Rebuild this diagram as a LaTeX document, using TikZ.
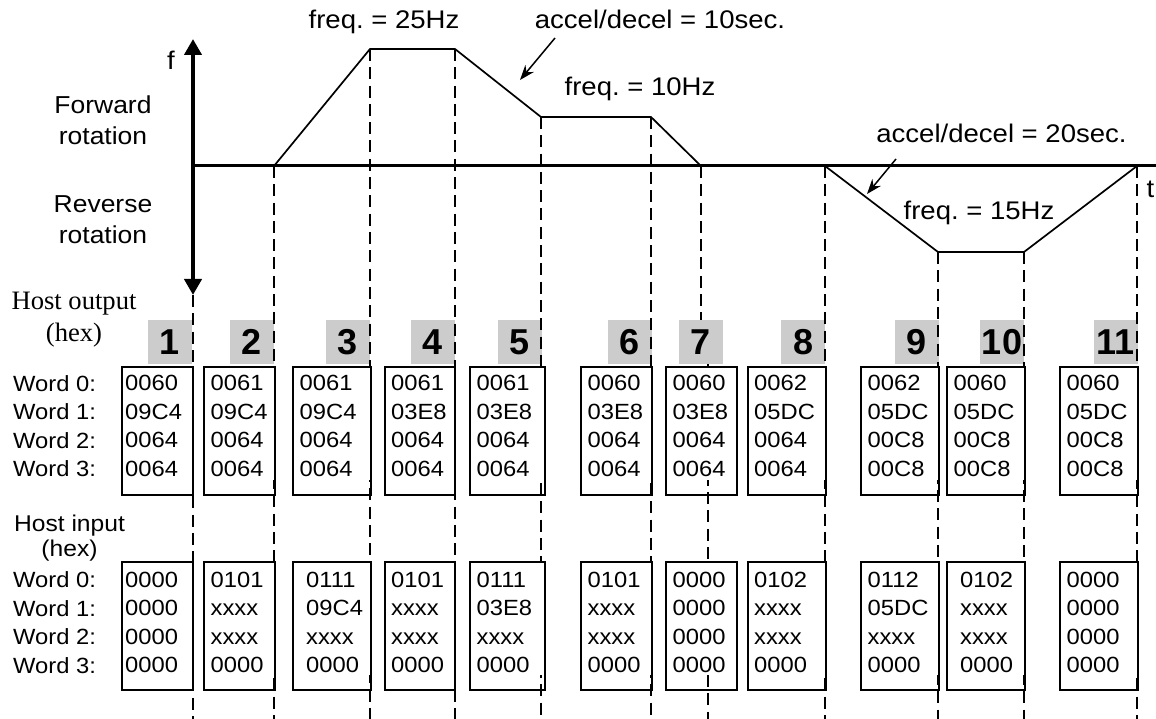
\documentclass[tikz,border=0pt]{standalone}
\usepackage{fontspec}
\setmainfont{Liberation Serif}
\setsansfont[FakeStretch=1.08]{Liberation Sans}
\newfontfamily\stepfont{Liberation Sans}
\usetikzlibrary{arrows.meta, positioning}
\definecolor{stepgray}{HTML}{CCCCCC}

\begin{document}
\frenchspacing
\begin{tikzpicture}[
    x=1pt, y=-1pt,
    axisline/.style={line width=4pt, {Triangle[width=17pt,length=16pt]}-{Triangle[width=17pt,length=16pt]}},
    zeroline/.style={line width=3pt},
    ramp/.style={line width=1.7pt},
    guide/.style={line width=2pt, dash pattern=on 12pt off 6.3pt},
    callout/.style={line width=1.5pt, -{Stealth[length=15pt,width=11pt]}},
    note/.style={font=\sffamily\fontsize{25.5}{30}\selectfont, inner sep=0pt, anchor=base},
    side/.style={font=\sffamily\fontsize{24.5}{31}\selectfont, align=center, inner sep=0pt, anchor=north},
    stepnum/.style={fill=stepgray, minimum width=44pt, minimum height=44pt, inner sep=0pt, font=\stepfont\bfseries\fontsize{36}{40}\selectfont},
    wordbox/.style={draw, line width=2pt, anchor=north west, minimum height=128pt, inner sep=0pt,
        path picture={\fill[white] ([shift={(1,1)}]path picture bounding box.north west) rectangle ([shift={(-1,-15)}]path picture bounding box.south east);}},
    wordtext/.style={font=\sffamily\fontsize{22}{28.5}\selectfont, align=left, anchor=north west, inner sep=0pt},
    hostlbl/.style={align=center, inner sep=0pt, anchor=north}
]
\useasboundingbox (0,0) rectangle (1156,719);

% axes
\coordinate (floor) at (0,719);
\coordinate (orig) at (193,166);
\coordinate (fend) at (1156,166);
\coordinate (ftop) at (193,39);
\coordinate (fbot) at (193,295);

% corners of the speed profile
\coordinate (k2) at (274,166);
\coordinate (k3) at (370,49);
\coordinate (k4) at (455,49);
\coordinate (k5) at (541,117);
\coordinate (k6) at (651,117);
\coordinate (k7) at (701,166);
\coordinate (k7b) at (708,364);
\coordinate (k8) at (825,166);
\coordinate (k9) at (938,252);
\coordinate (k10) at (1024,252);
\coordinate (k11) at (1137,166);

% step numbers
\node[stepnum] (n1) at (170,342) {1};
\node[stepnum] (n2) at (252,342) {2};
\node[stepnum] (n3) at (348,342) {3};
\node[stepnum] (n4) at (433,342) {4};
\node[stepnum] (n5) at (519.5,342) {5};
\node[stepnum] (n6) at (629.5,342) {6};
\node[stepnum] (n7) at (700.5,342) {7};
\node[stepnum] (n8) at (803,342) {8};
\node[stepnum] (n9) at (916.5,342) {9};
\node[stepnum] (n10) at (1002,342) {10};
\node[stepnum] (n11) at (1115.5,342) {11};

% dashed time marks
\draw[guide] (fbot) -- (fbot |- floor) (k2) -- (k2 |- floor) (k3) -- (k3 |- floor)
    (k4) -- (k4 |- floor) (k5) -- (k5 |- floor) (k6) -- (k6 |- floor)
    (k7) -- (k7 |- n7.north) (k7b) -- (k7b |- floor) (k8) -- (k8 |- floor)
    (k9) -- (k9 |- floor) (k10) -- (k10 |- floor) (k11) -- (k11 |- floor);

% host output words
\node[wordtext] (olbl) at (13,375) {Word 0:\\Word 1:\\Word 2:\\Word 3:};
\node[hostlbl, font=\rmfamily\fontsize{26.6}{32}\selectfont] (hout) at (74,292) {Host output\\(hex)};
\node[wordbox, minimum width=71pt] (o1) at (121,366) {};
\node[wordbox, minimum width=71pt] (o2) at (203,366) {};
\node[wordbox, minimum width=78pt] (o3) at (292,366) {};
\node[wordbox, minimum width=70.5pt] (o4) at (383.5,366) {};
\node[wordbox, minimum width=75pt] (o5) at (469,366) {};
\node[wordbox, minimum width=71pt] (o6) at (580,366) {};
\node[wordbox, minimum width=71pt] (o7) at (665,366) {};
\node[wordbox, minimum width=78.5pt] (o8) at (746.5,366) {};
\node[wordbox, minimum width=78pt] (o9) at (860,366) {};
\node[wordbox, minimum width=78pt] (o10) at (946,366) {};
\node[wordbox, minimum width=78pt] (o11) at (1059,366) {};
\node[wordtext] (o1t) at ([shift={(4,9)}]o1.north west) {0060\\09C4\\0064\\0064};
\node[wordtext] (o2t) at ([shift={(7.5,9)}]o2.north west) {0061\\09C4\\0064\\0064};
\node[wordtext] (o3t) at ([shift={(7.5,9)}]o3.north west) {0061\\09C4\\0064\\0064};
\node[wordtext] (o4t) at ([shift={(7.5,9)}]o4.north west) {0061\\03E8\\0064\\0064};
\node[wordtext] (o5t) at ([shift={(7.5,9)}]o5.north west) {0061\\03E8\\0064\\0064};
\node[wordtext] (o6t) at ([shift={(7.5,9)}]o6.north west) {0060\\03E8\\0064\\0064};
\node[wordtext] (o7t) at ([shift={(7.5,9)}]o7.north west) {0060\\03E8\\0064\\0064};
\node[wordtext] (o8t) at ([shift={(7.5,9)}]o8.north west) {0062\\05DC\\0064\\0064};
\node[wordtext] (o9t) at ([shift={(7.5,9)}]o9.north west) {0062\\05DC\\00C8\\00C8};
\node[wordtext] (o10t) at ([shift={(7.5,9)}]o10.north west) {0060\\05DC\\00C8\\00C8};
\node[wordtext] (o11t) at ([shift={(7.5,9)}]o11.north west) {0060\\05DC\\00C8\\00C8};

% host input words
\node[wordtext] (ilbl) at (13,571.5) {Word 0:\\Word 1:\\Word 2:\\Word 3:};
\node[hostlbl, font=\sffamily\fontsize{22.8}{25}\selectfont] (hin) at (69.5,515) {Host input\\(hex)};
\node[wordbox, minimum width=71pt] (i1) at (121,561) {};
\node[wordbox, minimum width=71pt] (i2) at (203,561) {};
\node[wordbox, minimum width=78pt] (i3) at (292,561) {};
\node[wordbox, minimum width=70.5pt] (i4) at (383.5,561) {};
\node[wordbox, minimum width=75pt] (i5) at (469,561) {};
\node[wordbox, minimum width=71pt] (i6) at (580,561) {};
\node[wordbox, minimum width=71pt] (i7) at (665,561) {};
\node[wordbox, minimum width=78.5pt] (i8) at (746.5,561) {};
\node[wordbox, minimum width=78pt] (i9) at (860,561) {};
\node[wordbox, minimum width=78pt] (i10) at (946,561) {};
\node[wordbox, minimum width=78pt] (i11) at (1059,561) {};
\node[wordtext] (i1t) at ([shift={(4,10.5)}]i1.north west) {0000\\0000\\0000\\0000};
\node[wordtext] (i2t) at ([shift={(7.5,10.5)}]i2.north west) {0101\\xxxx\\xxxx\\0000};
\node[wordtext] (i3t) at ([shift={(14,10.5)}]i3.north west) {0111\\09C4\\xxxx\\0000};
\node[wordtext] (i4t) at ([shift={(7.5,10.5)}]i4.north west) {0101\\xxxx\\xxxx\\0000};
\node[wordtext] (i5t) at ([shift={(7.5,10.5)}]i5.north west) {0111\\03E8\\xxxx\\0000};
\node[wordtext] (i6t) at ([shift={(7.5,10.5)}]i6.north west) {0101\\xxxx\\xxxx\\0000};
\node[wordtext] (i7t) at ([shift={(7.5,10.5)}]i7.north west) {0000\\0000\\0000\\0000};
\node[wordtext] (i8t) at ([shift={(7.5,10.5)}]i8.north west) {0102\\xxxx\\xxxx\\0000};
\node[wordtext] (i9t) at ([shift={(7.5,10.5)}]i9.north west) {0112\\05DC\\xxxx\\0000};
\node[wordtext] (i10t) at ([shift={(14,10.5)}]i10.north west) {0102\\xxxx\\xxxx\\0000};
\node[wordtext] (i11t) at ([shift={(7.5,10.5)}]i11.north west) {0000\\0000\\0000\\0000};

% speed profile
\draw[zeroline] (orig) -- (fend);
\draw[axisline] (ftop) -- (fbot);
\draw[ramp] (k2) -- (k3) -- (k4) -- (k5) -- (k6) -- (k7);
\draw[ramp] (k8) -- (k9) -- (k10) -- (k11);

% labels
\node[note] (flbl) at (171,70) {f};
\node[note] (tlbl) at (1150.5,198) {t};
\node[side] (fwd) at (103,95.4) {Forward\\rotation};
\node[side] (rev) at (103,195.5) {Reverse\\rotation};
\node[note] (f25) at (384,28.3) {freq. = 25Hz};
\node[note] (acc10) at (660,28.3) {accel/decel = 10sec.};
\node[note] (f10) at (640,96) {freq. = 10Hz};
\node[note] (acc20) at (1001.5,142.7) {accel/decel = 20sec.};
\node[note] (f15) at (979,220) {freq. = 15Hz};

% pointers
\coordinate (c10) at (555,38);
\coordinate (c10tip) at (520,80);
\coordinate (c20) at (896,159);
\coordinate (c20tip) at (867,194);
\draw[callout] (c10) -- (c10tip);
\draw[callout] (c20) -- (c20tip);

\end{tikzpicture}
\end{document}
